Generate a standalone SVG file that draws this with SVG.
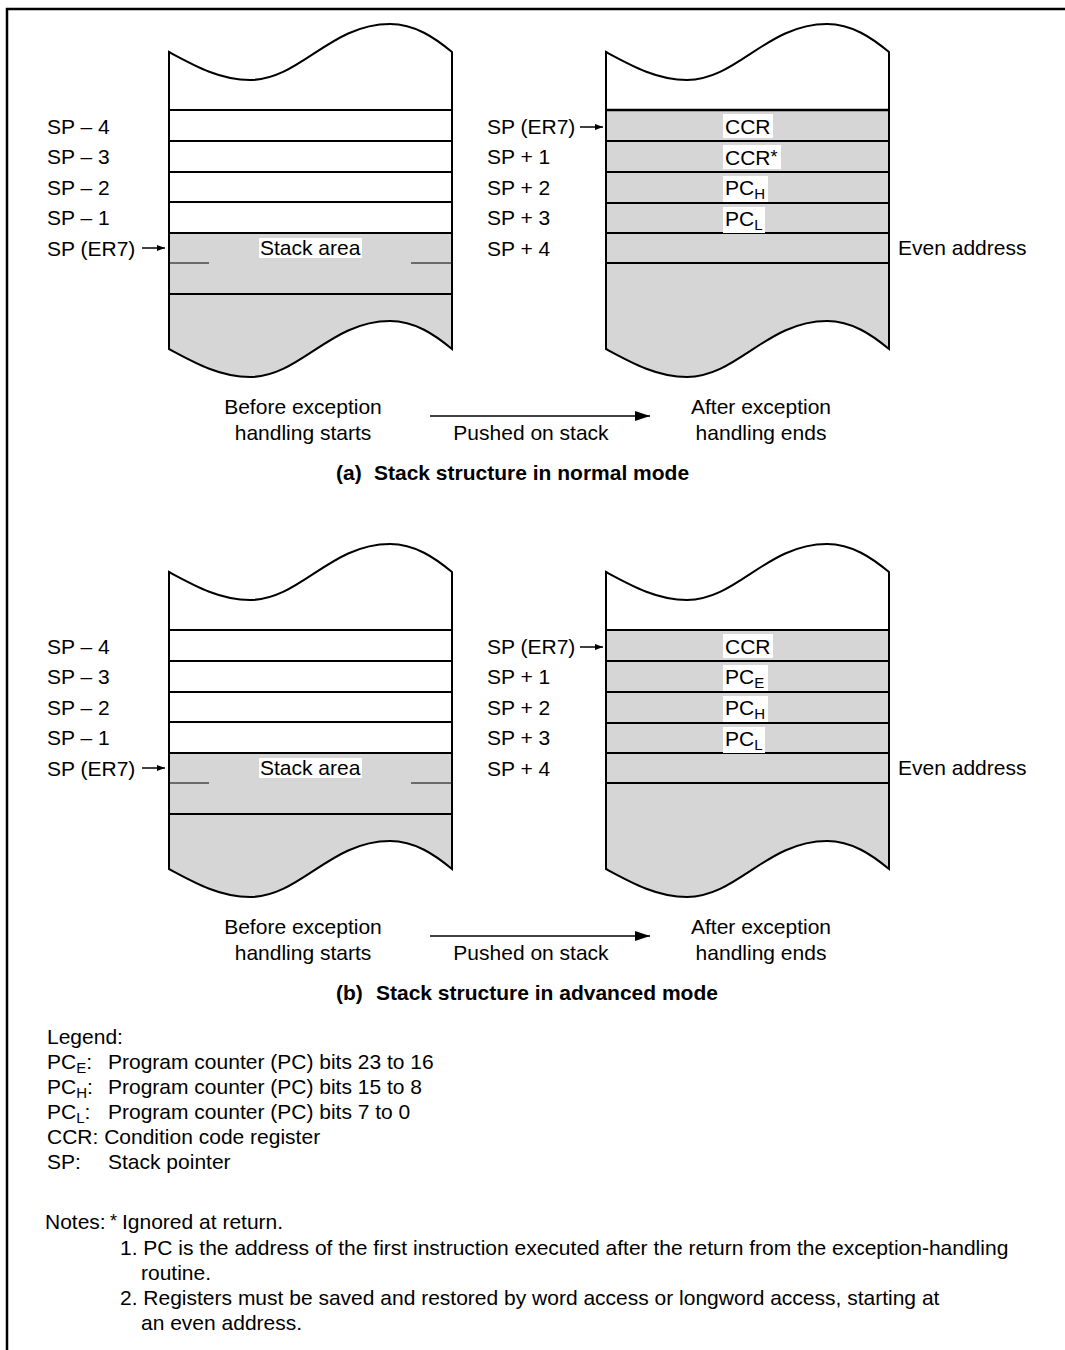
<svg xmlns="http://www.w3.org/2000/svg" width="1065" height="1350" viewBox="0 0 1065 1350">
<style>
text{font-family:"Liberation Sans",Arial,Helvetica,sans-serif;font-size:21px;fill:#000}
.b{font-weight:bold}
.sub{font-size:15px}
.ast{font-size:18px}
.white{fill:#fff}
.gray{fill:#d6d6d6}
.ol{fill:none;stroke:#000;stroke-width:2}
.row{stroke:#000;stroke-width:1.8;fill:none}
.thin{stroke:#000;stroke-width:1.2;fill:none}
.conn{stroke:#000;stroke-width:1.5;fill:none}
.bg{fill:#fff}
</style>
<defs>
<marker id="ahs" markerUnits="userSpaceOnUse" markerWidth="10" markerHeight="8" refX="8" refY="3" orient="auto">
<path d="M0,0 L8,3 L0,6 Z" fill="#000"/>
</marker>
<marker id="ahb" markerUnits="userSpaceOnUse" markerWidth="18" markerHeight="12" refX="15" refY="5" orient="auto">
<path d="M0,0 L15,5 L0,10 Z" fill="#000"/>
</marker>
<path id="outline" d="M0,0 C26,14 51,28 81,28 C131,28 161,-28 221,-28 C246,-28 266,-14 283,0 L283,297 C266,283 246,269 221,269 C161,269 131,325 81,325 C51,325 26,311 0,297 Z"/>
<path id="whiteL" d="M0,0 C26,14 51,28 81,28 C131,28 161,-28 221,-28 C246,-28 266,-14 283,0 L283,181 L0,181 Z"/>
<path id="grayL" d="M0,181 L283,181 L283,297 C266,283 246,269 221,269 C161,269 131,325 81,325 C51,325 26,311 0,297 Z"/>
<path id="whiteR" d="M0,0 C26,14 51,28 81,28 C131,28 161,-28 221,-28 C246,-28 266,-14 283,0 L283,58 L0,58 Z"/>
<path id="grayR" d="M0,58 L283,58 L283,297 C266,283 246,269 221,269 C161,269 131,325 81,325 C51,325 26,311 0,297 Z"/>
<g id="stackL">
<use href="#whiteL" class="white"/>
<use href="#grayL" class="gray"/>
<path class="row" d="M0,58 H283 M0,89 H283 M0,120 H283 M0,150 H283 M0,181 H283 M0,242 H283"/>
<path class="thin" d="M0,211 H40 M242,211 H283"/>
<use href="#outline" class="ol"/>
</g>
<g id="stackR">
<use href="#whiteR" class="white"/>
<use href="#grayR" class="gray"/>
<path class="row" d="M0,58 H283 M0,89 H283 M0,120 H283 M0,151 H283 M0,181 H283 M0,211 H283"/>
<use href="#outline" class="ol"/>
</g>
</defs>

<path id="frame" d="M7,1350 L7,9 L1065,9" fill="none" stroke="#000" stroke-width="2.5"/>

<!-- (a) normal mode -->
<g id="stack-a-before">
<use href="#stackL" x="169" y="52"/>
<rect x="259" y="238" width="103" height="20" class="bg"/>
<text x="260" y="255">Stack area</text>
</g>
<g id="labels-a-before">
<text x="47" y="133.5">SP – 4</text>
<text x="47" y="164">SP – 3</text>
<text x="47" y="194.5">SP – 2</text>
<text x="47" y="225">SP – 1</text>
<text x="47" y="255.5">SP (ER7)</text>
</g>
<g id="stack-a-after">
<use href="#stackR" x="606" y="52"/>
<path d="M606,110 H889" stroke="#000" stroke-width="2.6"/>
<rect x="723" y="114" width="50" height="24" class="bg"/>
<text x="725" y="134">CCR</text>
<rect x="723" y="145" width="58" height="24" class="bg"/>
<text x="725" y="165">CCR<tspan class="ast" dy="-2">*</tspan></text>
<rect x="723" y="176" width="45" height="26" class="bg"/>
<text x="725" y="195">PC<tspan class="sub" dy="4">H</tspan></text>
<rect x="723" y="207" width="42" height="26" class="bg"/>
<text x="725" y="226">PC<tspan class="sub" dy="4">L</tspan></text>
<text x="898" y="255">Even address</text>
</g>
<g id="labels-a-after">
<text x="487" y="133.5">SP (ER7)</text>
<text x="487" y="164">SP + 1</text>
<text x="487" y="194.5">SP + 2</text>
<text x="487" y="225">SP + 3</text>
<text x="487" y="255.5">SP + 4</text>
</g>
<g id="text-a">
<text x="303" y="414" text-anchor="middle">Before exception</text>
<text x="303" y="440" text-anchor="middle">handling starts</text>
<text x="531" y="440" text-anchor="middle">Pushed on stack</text>
<text x="761" y="414" text-anchor="middle">After exception</text>
<text x="761" y="440" text-anchor="middle">handling ends</text>
<text x="336" y="480" class="b">(a)<tspan x="374">Stack structure in normal mode</tspan></text>
</g>

<!-- (b) advanced mode -->
<g id="stack-b-before">
<use href="#stackL" x="169" y="572"/>
<rect x="259" y="758" width="103" height="20" class="bg"/>
<text x="260" y="775">Stack area</text>
</g>
<g id="labels-b-before">
<text x="47" y="653.5">SP – 4</text>
<text x="47" y="684">SP – 3</text>
<text x="47" y="714.5">SP – 2</text>
<text x="47" y="745">SP – 1</text>
<text x="47" y="775.5">SP (ER7)</text>
</g>
<g id="stack-b-after">
<use href="#stackR" x="606" y="572"/>
<rect x="723" y="634" width="50" height="24" class="bg"/>
<text x="725" y="654">CCR</text>
<rect x="723" y="665" width="45" height="26" class="bg"/>
<text x="725" y="684">PC<tspan class="sub" dy="4">E</tspan></text>
<rect x="723" y="696" width="45" height="26" class="bg"/>
<text x="725" y="715">PC<tspan class="sub" dy="4">H</tspan></text>
<rect x="723" y="727" width="42" height="26" class="bg"/>
<text x="725" y="746">PC<tspan class="sub" dy="4">L</tspan></text>
<text x="898" y="775">Even address</text>
</g>
<g id="labels-b-after">
<text x="487" y="653.5">SP (ER7)</text>
<text x="487" y="684">SP + 1</text>
<text x="487" y="714.5">SP + 2</text>
<text x="487" y="745">SP + 3</text>
<text x="487" y="775.5">SP + 4</text>
</g>
<g id="text-b">
<text x="303" y="934" text-anchor="middle">Before exception</text>
<text x="303" y="960" text-anchor="middle">handling starts</text>
<text x="531" y="960" text-anchor="middle">Pushed on stack</text>
<text x="761" y="934" text-anchor="middle">After exception</text>
<text x="761" y="960" text-anchor="middle">handling ends</text>
<text x="336" y="1000" class="b">(b)<tspan x="376">Stack structure in advanced mode</tspan></text>
</g>

<g id="connectors">
<line x1="142" y1="248" x2="165" y2="248" class="conn" marker-end="url(#ahs)"/>
<line x1="580" y1="127" x2="603" y2="127" class="conn" marker-end="url(#ahs)"/>
<line x1="430" y1="416" x2="650" y2="416" class="conn" marker-end="url(#ahb)"/>
<line x1="142" y1="768" x2="165" y2="768" class="conn" marker-end="url(#ahs)"/>
<line x1="580" y1="647" x2="603" y2="647" class="conn" marker-end="url(#ahs)"/>
<line x1="430" y1="936" x2="650" y2="936" class="conn" marker-end="url(#ahb)"/>
</g>

<g id="legend">
<text x="47" y="1044">Legend:</text>
<text x="47" y="1069">PC<tspan class="sub" dy="4">E</tspan><tspan dy="-4">:</tspan></text>
<text x="108" y="1069">Program counter (PC) bits 23 to 16</text>
<text x="47" y="1094">PC<tspan class="sub" dy="4">H</tspan><tspan dy="-4">:</tspan></text>
<text x="108" y="1094">Program counter (PC) bits 15 to 8</text>
<text x="47" y="1119">PC<tspan class="sub" dy="4">L</tspan><tspan dy="-4">:</tspan></text>
<text x="108" y="1119">Program counter (PC) bits 7 to 0</text>
<text x="47" y="1144">CCR: Condition code register</text>
<text x="47" y="1169">SP:</text>
<text x="108" y="1169">Stack pointer</text>
</g>

<g id="notes">
<text x="45" y="1229">Notes:</text>
<text x="110" y="1229"><tspan class="ast" dy="-2">*</tspan><tspan x="122" dy="2">Ignored at return.</tspan></text>
<text x="120" y="1255">1. PC is the address of the first instruction executed after the return from the exception-handling</text>
<text x="141" y="1280">routine.</text>
<text x="120" y="1305">2. Registers must be saved and restored by word access or longword access, starting at</text>
<text x="141" y="1330">an even address.</text>
</g>
</svg>
